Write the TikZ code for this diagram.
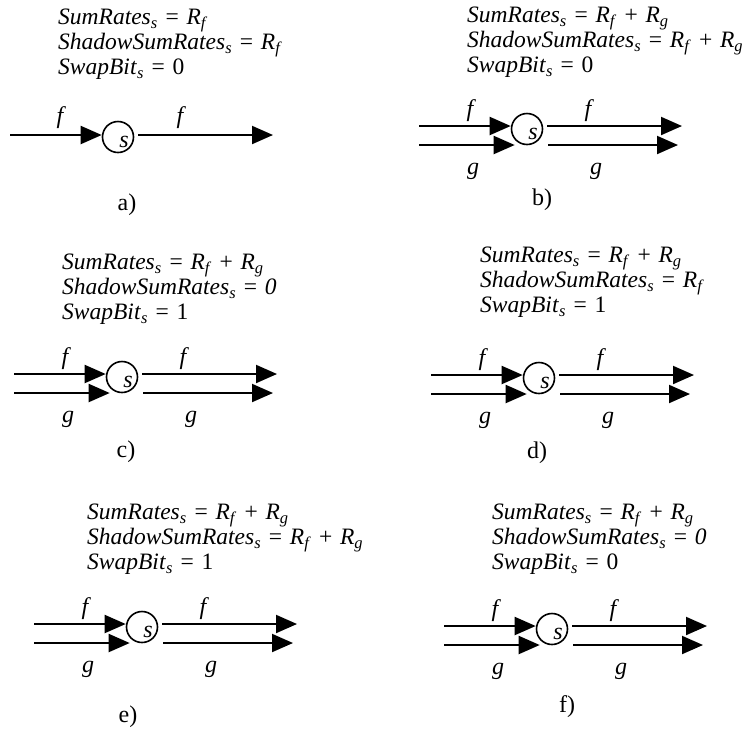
\documentclass[tikz,border=0pt]{standalone}
\usepackage{fontspec}
\setmainfont{Liberation Serif}
\usetikzlibrary{arrows.meta}
\newcommand{\wordgap}{\spaceskip 0.33em\relax}
\tikzset{
  ratebox/.style={
    anchor=north west,
    align=left,
    inner sep=0pt,
    font=\fontsize{23.5}{24.8}\selectfont\wordgap
  },
  router/.style={draw, circle, line width=1.6pt, minimum size=31pt, inner sep=0pt},
  flow/.style={-{Triangle[length=21pt,width=18pt]}, line width=2pt},
  flowname/.style={inner sep=0pt, font=\fontsize{24}{24}\selectfont\itshape},
  panelcap/.style={inner sep=0pt, font=\fontsize{24}{24}\selectfont}
}
\newcommand{\rvar}[2]{\textit{#1}\textsubscript{\textit{#2}}}

\begin{document}
\begin{tikzpicture}[x=1pt, y=-1pt]
  \useasboundingbox (0,0) rectangle (754,729);
  % state of s in each case
  \node[ratebox] (ta) at (58,9) {\rvar{SumRates}{s} = \rvar{R}{f}\\
    \rvar{ShadowSumRates}{s} = \rvar{R}{f}\\ \rvar{SwapBit}{s} = 0};
  \node[ratebox] (tb) at (467,7) {\rvar{SumRates}{s} = \rvar{R}{f} + \rvar{R}{g}\\
    \rvar{ShadowSumRates}{s} = \rvar{R}{f} + \rvar{R}{g}\\ \rvar{SwapBit}{s} = 0};
  \node[ratebox] (tc) at (62,254) {\rvar{SumRates}{s} = \rvar{R}{f} + \rvar{R}{g}\\
    \rvar{ShadowSumRates}{s} = \textit{0}\\ \rvar{SwapBit}{s} = 1};
  \node[ratebox] (td) at (480,247) {\rvar{SumRates}{s} = \rvar{R}{f} + \rvar{R}{g}\\
    \rvar{ShadowSumRates}{s} = \rvar{R}{f}\\ \rvar{SwapBit}{s} = 1};
  \node[ratebox] (te) at (87,504) {\rvar{SumRates}{s} = \rvar{R}{f} + \rvar{R}{g}\\
    \rvar{ShadowSumRates}{s} = \rvar{R}{f} + \rvar{R}{g}\\ \rvar{SwapBit}{s} = 1};
  \node[ratebox] (tf) at (492,504) {\rvar{SumRates}{s} = \rvar{R}{f} + \rvar{R}{g}\\
    \rvar{ShadowSumRates}{s} = \textit{0}\\ \rvar{SwapBit}{s} = 0};

  % a) only flow f
  \begin{scope}[shift={(118,137)}]
    \node[router] (sa) at (0,0) {};
    \node[flowname] (na) at (6,5) {s};
    \coordinate (fina) at (-108,-2);
    \coordinate (fouta) at (155,-2);
    \draw[flow] (fina) -- (fina -| sa.west);
    \draw[flow] ([xshift=4pt]fouta -| sa.east) -- (fouta);
    \node[flowname] (lfina) at (-58,-19) {f};
    \node[flowname] (lfouta) at (62,-19) {f};
  \end{scope}

  % b) to f) flows f and g
  \foreach \p/\cx/\cy in {b/527/129, c/122/377, d/539/378, e/142/627, f/552/629}{
    \begin{scope}[shift={(\cx,\cy)}]
      \node[router] (s\p) at (0,0) {};
      \node[flowname] (n\p) at (6,5) {s};
      \coordinate (fin\p) at (-108,-3);
      \coordinate (gin\p) at (-108,16);
      \coordinate (fout\p) at (155,-3);
      \coordinate (gout\p) at (151,16);
      \draw[flow] (fin\p) -- (fin\p -| s\p.west);
      \draw[flow] (gin\p) -- ([xshift=4pt]gin\p -| s\p.west);
      \draw[flow] ([xshift=4pt]fout\p -| s\p.east) -- (fout\p);
      \draw[flow] ([xshift=5pt]gout\p -| s\p.east) -- (gout\p);
      \node[flowname] (lfin\p) at (-57,-18) {f};
      \node[flowname] (lfout\p) at (61,-18) {f};
      \node[flowname] (lgin\p) at (-54,42) {g};
      \node[flowname] (lgout\p) at (69,42) {g};
    \end{scope}
  }

  \node[panelcap] (capa) at (127,205) {a)};
  \node[panelcap] (capb) at (542,200) {b)};
  \node[panelcap] (capc) at (126,452) {c)};
  \node[panelcap] (capd) at (537,453) {d)};
  \node[panelcap] (cape) at (128,717) {e)};
  \node[panelcap] (capf) at (567,707) {f)};
\end{tikzpicture}
\end{document}
